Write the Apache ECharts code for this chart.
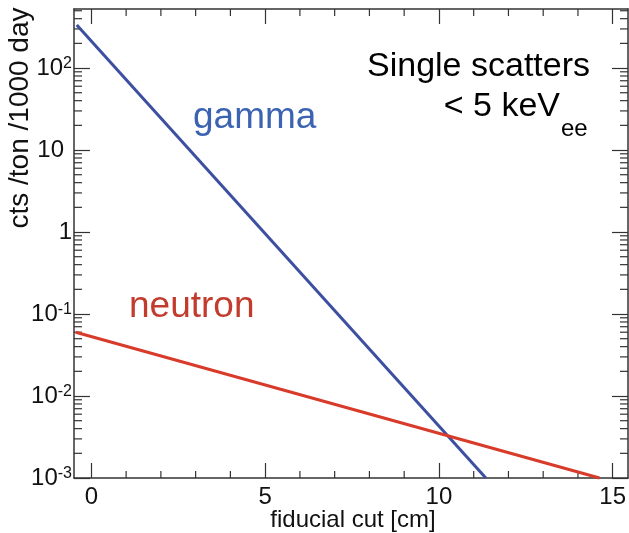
<!DOCTYPE html>
<html>
<head>
<meta charset="utf-8">
<script src="https://cdn.jsdelivr.net/npm/echarts@6/dist/echarts.min.js"></script>
<style>html,body{margin:0;padding:0;background:#fff;}#c{width:629px;height:533px;}</style>
</head>
<body>
<div id="c"></div>
<script>
// ---- data ----
const gammaX = [-0.42, 11.35];
const gammaY = [334, 0.001];
const neutronX = [-0.45, 14.62];
const neutronY = [0.060, 0.001];
const xMajorTicks = [0, 5, 10, 15];
const xMinorTicks = [1, 2, 3, 4, 6, 7, 8, 9, 11, 12, 13, 14];
const yMajorTicks = [0.001, 0.01, 0.1, 1, 10, 100];
const yMinorMantissa = [2, 3, 4, 5, 6, 7, 8, 9];
const yDecades = [0.001, 0.01, 0.1, 1, 10, 100];
const xRange = [-0.5, 15.44];
const yRange = [0.001, 525];

const FONT = 'Liberation Sans, Arial, Helvetica, sans-serif';
const AX = '#333';

const yMinorTicks = [];
yDecades.forEach(d => yMinorMantissa.forEach(m => {
  const v = +(m * d).toPrecision(6);
  if (v < yRange[1]) yMinorTicks.push(v);
}));

function yLabel(v) {
  if (v === 1) return '{b|1}';
  if (v === 10) return '{b|10}{p|}';
  const e = Math.round(Math.log10(v));
  return '{b|10}{s|' + e + '}';
}

const axisLineStyle = { color: AX, width: 1.5 };
const baseX = {
  type: 'value', min: xRange[0], max: xRange[1],
  axisLine: { show: true, onZero: false, lineStyle: axisLineStyle },
  axisTick: { show: true, inside: true, length: 15, customValues: xMajorTicks, lineStyle: { color: AX, width: 1.2 } },
  splitLine: { show: false }
};
const baseY = {
  type: 'log', logBase: 10, min: yRange[0], max: yRange[1],
  axisLine: { show: true, onZero: false, lineStyle: axisLineStyle },
  axisTick: { show: true, inside: true, length: 16, customValues: yMajorTicks, lineStyle: { color: AX, width: 1.2 } },
  splitLine: { show: false }
};

const chart = echarts.init(document.getElementById('c'));
chart.setOption({
  animation: false,
  backgroundColor: '#fff',
  grid: { left: 74, right: 1, top: 9, bottom: 55, containLabel: false, outerBoundsMode: 'none' },
  xAxis: [
    Object.assign({}, baseX, {
      position: 'bottom',
      axisLabel: { show: true, customValues: xMajorTicks, fontSize: 24, margin: 7, color: '#111', fontFamily: FONT }
    }),
    Object.assign({}, baseX, { position: 'top', axisLabel: { show: false } })
  ],
  yAxis: [
    Object.assign({}, baseY, {
      position: 'left',
      axisLabel: {
        show: true, customValues: yMajorTicks, margin: 2, color: '#111', fontFamily: FONT,
        formatter: yLabel,
        rich: {
          b: { fontSize: 24, fontFamily: FONT, color: '#111', lineHeight: 24 },
          s: { fontSize: 16, fontFamily: FONT, color: '#111', verticalAlign: 'top', lineHeight: 16 },
          p: { width: 8 }
        }
      }
    }),
    Object.assign({}, baseY, { position: 'right', axisLabel: { show: false } })
  ],
  series: [
    {
      type: 'line', name: 'gamma', xAxisIndex: 0, yAxisIndex: 0,
      data: gammaX.map((x, i) => [x, gammaY[i]]),
      showSymbol: false, lineStyle: { color: '#3c4fa0', width: 3 }, silent: true, clip: false
    },
    {
      type: 'line', name: 'neutron', xAxisIndex: 0, yAxisIndex: 0,
      data: neutronX.map((x, i) => [x, neutronY[i]]),
      showSymbol: false, lineStyle: { color: '#d93b2b', width: 3 }, silent: true, clip: false
    },
    {
      type: 'custom', xAxisIndex: 0, yAxisIndex: 0, silent: true,
      data: xMinorTicks.map(v => [v, yRange[0]]),
      renderItem: function (params, api) {
        const v = api.value(0);
        const b = api.coord([v, yRange[0]]);
        const t = api.coord([v, yRange[1]]);
        const st = { stroke: AX, lineWidth: 1.2 };
        return { type: 'group', children: [
          { type: 'line', shape: { x1: b[0], y1: b[1], x2: b[0], y2: b[1] - 7 }, style: st },
          { type: 'line', shape: { x1: t[0], y1: t[1], x2: t[0], y2: t[1] + 7 }, style: st }
        ] };
      }
    },
    {
      type: 'custom', xAxisIndex: 0, yAxisIndex: 0, silent: true,
      data: yMinorTicks.map(v => [xRange[0], v]),
      renderItem: function (params, api) {
        const v = api.value(1);
        const l = api.coord([xRange[0], v]);
        const r = api.coord([xRange[1], v]);
        const st = { stroke: AX, lineWidth: 1.2 };
        return { type: 'group', children: [
          { type: 'line', shape: { x1: l[0], y1: l[1], x2: l[0] + 8, y2: l[1] }, style: st },
          { type: 'line', shape: { x1: r[0], y1: r[1], x2: r[0] - 8, y2: r[1] }, style: st }
        ] };
      }
    }
  ],
  graphic: [
    { type: 'text', x: 590, y: 67, style: { text: 'Single scatters', font: '34px ' + FONT, fill: '#000', textAlign: 'right', textVerticalAlign: 'middle' } },
    { type: 'text', x: 560, y: 107, style: { text: '< 5 keV', font: '34px ' + FONT, fill: '#000', textAlign: 'right', textVerticalAlign: 'middle' } },
    { type: 'text', x: 561, y: 129, style: { text: 'ee', font: '24px ' + FONT, fill: '#000', textAlign: 'left', textVerticalAlign: 'middle' } },
    { type: 'text', x: 193, y: 118, style: { text: 'gamma', font: '37px ' + FONT, fill: '#3b63b2', textAlign: 'left', textVerticalAlign: 'middle' } },
    { type: 'text', x: 129, y: 307, style: { text: 'neutron', font: '37px ' + FONT, fill: '#c23b2d', textAlign: 'left', textVerticalAlign: 'middle' } },
    { type: 'text', x: 353, y: 520, style: { text: 'fiducial cut [cm]', font: '24px ' + FONT, fill: '#111', textAlign: 'center', textVerticalAlign: 'middle' } },
    { type: 'text', x: 20, y: 118, rotation: Math.PI / 2, style: { text: 'cts /ton /1000 day', font: '28px ' + FONT, fill: '#111', textAlign: 'center', textVerticalAlign: 'middle' } }
  ]
});
</script>
</body>
</html>
